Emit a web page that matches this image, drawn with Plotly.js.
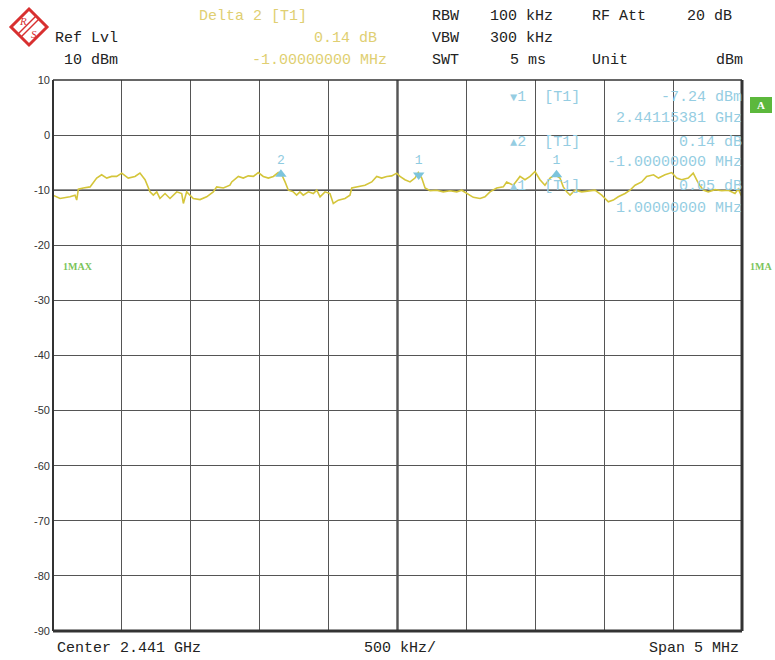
<!DOCTYPE html>
<html><head><meta charset="utf-8">
<script src="https://cdn.plot.ly/plotly-3.0.1.min.js"></script>
<style>html,body{margin:0;padding:0;background:#fff}</style>
</head><body><div id="chart" style="width:775px;height:660px"></div>
<script>
// Trace 1 (max hold) — frequency in MHz, level in dBm
const freqMHz = [
2438.500,2438.551,2438.623,2438.660,2438.672,2438.684,2438.720,2438.769,2438.817,2438.853,
2438.890,2438.926,2438.962,2438.999,2439.046,2439.095,2439.131,2439.168,2439.204,2439.228,
2439.253,2439.276,2439.313,2439.349,2439.398,2439.434,2439.446,2439.470,2439.518,2439.567,
2439.615,2439.663,2439.688,2439.736,2439.784,2439.797,2439.845,2439.881,2439.917,2439.954,
2439.990,2440.026,2440.063,2440.099,2440.135,2440.160,2440.184,2440.208,2440.244,2440.268,
2440.292,2440.316,2440.353,2440.389,2440.414,2440.438,2440.474,2440.510,2440.534,2440.570,
2440.619,2440.655,2440.668,2440.716,2440.764,2440.813,2440.849,2440.885,2440.922,2440.958,
2440.994,2441.018,2441.054,2441.091,2441.127,2441.151,2441.176,2441.200,2441.236,2441.284,
2441.332,2441.381,2441.430,2441.466,2441.502,2441.550,2441.599,2441.635,2441.671,2441.720,
2441.768,2441.792,2441.840,2441.889,2441.925,2441.962,2441.998,2442.034,2442.070,2442.107,
2442.143,2442.179,2442.203,2442.228,2442.252,2442.288,2442.337,2442.385,2442.433,2442.482,
2442.530,2442.566,2442.602,2442.651,2442.687,2442.724,2442.772,2442.808,2442.858,2442.894,
2442.941,2442.990,2443.026,2443.062,2443.110,2443.146,2443.183,2443.219,2443.255,2443.304,
2443.353,2443.401,2443.449,2443.473,2443.500];
const levelDbm = [
-10.9,-11.5,-11.2,-10.9,-11.8,-9.8,-9.6,-9.4,-7.8,-7.2,
-7.8,-7.5,-7.5,-6.9,-7.8,-7.5,-6.9,-8.1,-10.3,-10.9,
-10.3,-11.5,-10.6,-11.5,-10.3,-10.6,-12.4,-10.3,-11.5,-11.7,
-11.2,-10.3,-9.4,-9.6,-9.1,-8.5,-7.5,-7.8,-7.4,-7.5,
-6.8,-7.5,-7.8,-7.5,-6.8,-7.2,-8.5,-10.0,-10.3,-10.9,
-10.3,-10.9,-10.3,-10.6,-10.0,-11.2,-10.3,-10.6,-12.4,-11.8,
-11.5,-10.9,-9.6,-9.4,-9.1,-8.5,-7.5,-7.8,-7.5,-7.4,
-6.9,-7.5,-8.1,-8.5,-7.8,-6.8,-7.8,-9.6,-10.1,-10.0,
-10.3,-10.1,-10.3,-10.0,-10.6,-11.3,-11.5,-11.2,-10.3,-9.6,
-9.4,-8.5,-9.1,-7.5,-8.1,-7.5,-6.6,-8.1,-9.1,-7.8,
-7.2,-7.8,-9.4,-10.3,-10.9,-10.0,-10.3,-10.1,-10.0,-10.9,
-12.1,-11.8,-11.2,-10.6,-10.0,-9.1,-8.5,-7.5,-7.2,-7.8,
-7.2,-6.8,-7.8,-8.1,-7.8,-6.9,-8.7,-10.0,-10.3,-9.9,
-10.1,-10.0,-10.6,-9.8,-11.2];

// Markers
const markerFreqMHz = [2441.15381, 2440.15381, 2442.15381];
const markerLevelDbm = [-7.24, -7.10, -7.19];
const markerLabels = ['1', '2', '1'];
const markerSymbols = ['triangle-down', 'triangle-up', 'triangle-up'];

// Axis
const yTickVals = [10, 0, -10, -20, -30, -40, -50, -60, -70, -80, -90];
const yTickText = ['10', '0', '-10', '-20', '-30', '-40', '-50', '-60', '-70', '-80', '-90'];
const xRange = [2438.5, 2443.5];
const yRange = [-90, 10];

// Header / info texts
const headerBlack = [
  ['Ref Lvl', 53, 38, 'left'], ['10 dBm', 62, 60, 'left'],
  ['RBW', 430, 16, 'left'], ['100 kHz', 488, 16, 'left'], ['RF Att', 590, 16, 'left'], ['20 dB', 685, 16, 'left'],
  ['VBW', 430, 38, 'left'], ['300 kHz', 488, 38, 'left'],
  ['SWT', 430, 60, 'left'], ['5 ms', 508, 60, 'left'], ['Unit', 590, 60, 'left'], ['dBm', 714, 60, 'left'],
  ['Center 2.441 GHz', 55, 648, 'left'], ['500 kHz/', 362, 648, 'left'], ['Span 5 MHz', 741, 648, 'right']
];
const headerYellow = [
  ['Delta 2 [T1]', 197, 16, 'left'], ['0.14 dB', 379, 38, 'right'], ['-1.00000000 MHz', 389, 60, 'right']
];
const markerInfo = [
  ['<span style="font-size:12px">▼</span>1  [T1]', 508, 97, 'left'], ['-7.24 dBm', 744, 97, 'right'], ['2.44115381 GHz', 744, 118, 'right'],
  ['<span style="font-size:12px">▲</span>2  [T1]', 508, 142, 'left'], ['0.14 dB', 744, 142, 'right'], ['-1.00000000 MHz', 744, 162, 'right'],
  ['<span style="font-size:12px">▲</span>1  [T1]', 508, 186, 'left'], ['0.05 dB', 744, 186, 'right'], ['1.00000000 MHz', 744, 208, 'right']
];

const L = 53, R = 742, T = 80, B = 631, W = 775, H = 660;
const px = x => (x - L) / (R - L);
const py = y => (B - y) / (B - T);

const mono = 'Liberation Mono, DejaVu Sans Mono, monospace';
const annotations = [];
function addText(list, color) {
  list.forEach(([t, x, y, a]) => annotations.push({
    text: t, xref: 'paper', yref: 'paper', x: px(x), y: py(y),
    xanchor: a, yanchor: 'middle', showarrow: false,
    font: {family: mono, size: 15, color: color}
  }));
}
addText(headerBlack, '#222');
addText(headerYellow, '#e0cf72');
addText(markerInfo, '#95cde2');
annotations.push({text: '<b>1MAX</b>', xref: 'paper', yref: 'paper', x: px(61), y: py(266), xanchor: 'left', yanchor: 'middle', showarrow: false, font: {family: 'Liberation Serif, serif', size: 10, color: '#7cc45a'}});
annotations.push({text: '<b>1MA</b>', xref: 'paper', yref: 'paper', x: px(748), y: py(266), xanchor: 'left', yanchor: 'middle', showarrow: false, font: {family: 'Liberation Serif, serif', size: 10, color: '#7cc45a'}});
annotations.push({text: '<b>A</b>', xref: 'paper', yref: 'paper', x: px(761), y: py(105), xanchor: 'center', yanchor: 'middle', showarrow: false, font: {family: 'Liberation Serif, serif', size: 11, color: '#ffffff'}});
annotations.push({text: '<i>R</i>', xref: 'paper', yref: 'paper', x: px(23), y: py(21), xanchor: 'center', yanchor: 'middle', showarrow: false, font: {family: 'Liberation Serif, serif', size: 11, color: '#d83030'}});
annotations.push({text: '<i>S</i>', xref: 'paper', yref: 'paper', x: px(34), y: py(34), xanchor: 'center', yanchor: 'middle', showarrow: false, font: {family: 'Liberation Serif, serif', size: 11, color: '#d83030'}});

const P = (x, y) => px(x).toFixed(5) + ',' + py(y).toFixed(5);
const shapes = [
  // logo
  {type: 'path', xref: 'paper', yref: 'paper', path: `M${P(29,9)} L${P(47,27)} L${P(29,45)} L${P(11,27)} Z`, line: {color: '#d83030', width: 3}, fillcolor: 'rgba(0,0,0,0)'},
  {type: 'line', xref: 'paper', yref: 'paper', x0: px(18), y0: py(34), x1: px(36), y1: py(16), line: {color: '#d83030', width: 1.5}},
  {type: 'line', xref: 'paper', yref: 'paper', x0: px(21), y0: py(37), x1: px(39), y1: py(19), line: {color: '#d83030', width: 1.5}},
  // A box
  {type: 'rect', xref: 'paper', yref: 'paper', x0: px(750), x1: px(772), y0: py(97), y1: py(113), fillcolor: '#5cb83c', line: {width: 0}},
  // center line and reference line
  {type: 'line', xref: 'x', yref: 'paper', x0: 2441.0, x1: 2441.0, y0: 0, y1: 1, line: {color: '#333', width: 2.2}, layer: 'below'},
  {type: 'line', xref: 'paper', yref: 'y', x0: 0, x1: 1, y0: -10, y1: -10, line: {color: '#222', width: 1.6}, layer: 'below'},
  // frame
  {type: 'line', xref: 'paper', yref: 'paper', x0: 1, x1: 1, y0: 0, y1: 1, line: {color: '#333', width: 3}},
  {type: 'line', xref: 'paper', yref: 'paper', x0: 0, x1: 1, y0: 0, y1: 0, line: {color: '#333', width: 3}},
  {type: 'line', xref: 'paper', yref: 'paper', x0: 0, x1: 0, y0: 0, y1: 1, line: {color: '#333', width: 2}},
  {type: 'line', xref: 'paper', yref: 'paper', x0: 0, x1: 1, y0: 1, y1: 1, line: {color: '#333', width: 1.5}}
];

const traces = [
  {x: freqMHz, y: levelDbm, type: 'scatter', mode: 'lines', line: {color: '#d4c53a', width: 1.6}, hoverinfo: 'skip'},
  {x: markerFreqMHz, y: markerLevelDbm, type: 'scatter', mode: 'markers+text', text: markerLabels,
   textposition: 'top center', textfont: {family: mono, size: 13, color: '#8fcbe0'},
   marker: {symbol: markerSymbols, size: 10, color: '#7cc4dc'}, hoverinfo: 'skip'}
];

const layout = {
  width: W, height: H, showlegend: false,
  paper_bgcolor: '#ffffff', plot_bgcolor: '#ffffff',
  margin: {l: L, r: W - R, t: T, b: H - B, pad: 0},
  xaxis: {range: xRange, tick0: 2438.5, dtick: 0.5, showticklabels: false, ticks: '', showgrid: true,
          gridcolor: '#555', gridwidth: 1, zeroline: false, showline: false, fixedrange: true},
  yaxis: {range: yRange, tickvals: yTickVals, ticktext: yTickText, ticks: '', showgrid: true,
          gridcolor: '#555', gridwidth: 1, zeroline: false, showline: false, ticklabelstandoff: 2,
          tickfont: {family: 'Liberation Sans, Arial, sans-serif', size: 11, color: '#333'}, fixedrange: true},
  shapes: shapes, annotations: annotations
};

Plotly.newPlot('chart', traces, layout, {staticPlot: true, displayModeBar: false});
</script>
</body></html>
